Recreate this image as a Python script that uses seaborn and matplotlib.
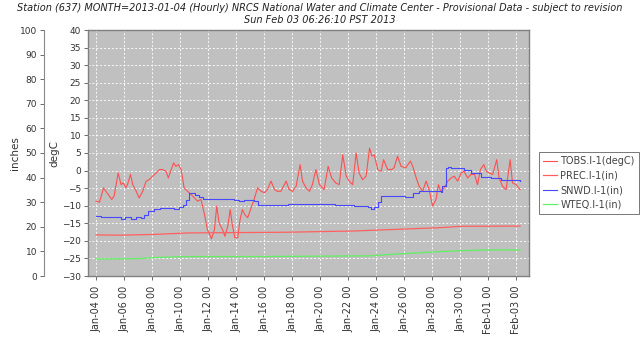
import pandas as pd
import matplotlib
matplotlib.use("Agg")
import matplotlib.pyplot as plt
import matplotlib.dates as mdates
import seaborn as sns

# Hours after 2013-01-04 00:00 and readings for each sensor
start = pd.Timestamp("2013-01-04 00:00")

tobs_hours = [0, 6, 13, 17, 23, 27, 31, 38, 43, 47, 51, 54, 59, 63, 69, 74, 80, 86, 91, 97,
              103, 109, 114, 120, 124, 129, 133, 137, 141, 146, 151, 157, 163, 169, 174, 180,
              186, 191, 198, 203, 207, 211, 217, 221, 226, 230, 234, 238, 243, 247, 251, 255,
              260, 265, 271, 277, 283, 289, 294, 300, 306, 311, 317, 326, 331, 337, 343, 350,
              354, 360, 366, 371, 377, 383, 391, 398, 404, 411, 417, 423, 429, 434, 440, 446,
              451, 457, 463, 469, 473, 477, 483, 489, 493, 500, 507, 511, 517, 523, 531, 539,
              543, 549, 554, 560, 566, 571, 577, 583, 587, 591, 597, 603, 609, 614, 620, 626,
              631, 637, 643, 649, 654, 659, 665, 669, 674, 680, 687, 691, 697, 703, 710, 714,
              720, 727]
tobs_degc = [-8.7, -9.0, -4.9, -5.9, -7.3, -8.2, -7.3, -0.7, -4.0, -3.5, -4.9, -4.0, -1.1, -4.0,
             -5.9, -7.8, -5.9, -3.0, -2.6, -1.6, -0.7, 0.3, 0.3, -0.2, -2.1, 0.3, 2.2, 1.2, 1.7,
             0.3, -4.9, -5.9, -6.8, -7.8, -8.7, -8.2, -12.5, -16.8, -19.4, -16.8, -10.1, -14.9,
             -16.8, -18.7, -15.8, -11.1, -15.8, -19.1, -19.1, -13.9, -11.1, -12.5, -13.4, -11.1,
             -8.2, -4.9, -5.9, -6.3, -5.4, -3.0, -5.4, -5.9, -5.9, -3.0, -5.4, -5.9, -4.5, 1.7,
             -3.0, -4.9, -5.9, -4.0, 0.3, -4.0, -5.4, 1.2, -2.1, -3.5, -4.0, 4.5, -1.6, -3.0,
             -4.0, 5.0, -0.7, -2.6, -1.6, 6.4, 4.1, 4.5, 0.3, -0.2, 3.1, 0.3, 0.3, 0.8, 4.1, 1.2,
             0.8, 2.7, 1.2, -2.1, -4.5, -5.9, -3.0, -5.4, -10.1, -8.2, -4.0, -5.9, -4.9, -3.0,
             -2.1, -1.6, -3.0, -0.7, -0.2, -2.1, -1.1, -1.1, -4.0, 0.3, 1.7, -0.2, -0.7, -1.1,
             3.1, -2.1, -4.5, -5.4, 3.1, -3.5, -4.0, -5.4]

prec_hours = [0, 43, 100, 157, 214, 329, 443, 529, 586, 626, 727]
prec_in = [16.7, 16.6, 16.9, 17.5, 17.6, 17.8, 18.3, 19.1, 19.6, 20.2, 20.3]

snwd_hours = [0, 9, 37, 43, 49, 60, 69, 77, 83, 89, 100, 109, 123, 134, 143, 149, 154, 160,
              169, 177, 183, 214, 237, 246, 254, 271, 277, 329, 397, 409, 443, 466, 471, 477,
              483, 489, 511, 529, 543, 554, 591, 594, 600, 603, 609, 631, 643, 660, 677, 694,
              717, 727]
snwd_in = [24.4, 23.8, 23.8, 23.0, 23.8, 23.0, 23.8, 23.5, 24.8, 26.6, 27.1, 27.5, 27.5, 27.1,
           27.9, 28.9, 30.9, 33.6, 32.9, 32.3, 31.2, 31.2, 30.9, 30.5, 30.9, 30.5, 28.9, 29.3,
           29.3, 28.7, 28.5, 28.2, 27.4, 28.2, 30.2, 32.5, 32.5, 32.3, 33.6, 34.7, 34.3, 36.6,
           43.8, 44.4, 43.8, 43.1, 41.8, 40.4, 39.7, 39.0, 39.0, 38.6]

wteq_hours = [0, 71, 100, 157, 271, 471, 500, 557, 614, 671, 727]
wteq_in = [6.9, 7.05, 7.5, 7.9, 7.9, 8.2, 8.7, 9.5, 10.2, 10.6, 10.6]

tick_dates = pd.date_range("2013-01-04", "2013-02-03", freq="2D").tolist() + [pd.Timestamp("2013-02-03")]
tick_dates = sorted(set(tick_dates))

title_lines = ["Station (637) MONTH=2013-01-04 (Hourly) NRCS National Water and Climate Center - Provisional Data - subject to revision",
               "Sun Feb 03 06:26:10 PST 2013"]


def frame(hours, values):
    return pd.DataFrame({"time": start + pd.to_timedelta(hours, unit="h"), "value": values})


W, H = 640, 341
fig = plt.figure(figsize=(W / 100, H / 100), dpi=100)
fig.patch.set_facecolor("white")
plt.rcParams["font.family"] = ["DejaVu Sans"]

ax = fig.add_axes([88 / W, (H - 276) / H, 441 / W, 246 / H])
ax.set_facecolor("#c0c0c0")
ax2 = ax.twinx()
ax2.patch.set_visible(False)

tick_col = "#555555"
lab_col = "#333333"

sns.lineplot(data=frame(tobs_hours, tobs_degc), x="time", y="value", ax=ax,
             color="#ff5050", linewidth=0.8, label="TOBS.I-1(degC)", legend=False)
sns.lineplot(data=frame(prec_hours, prec_in), x="time", y="value", ax=ax2,
             color="#ff6060", linewidth=0.9, label="PREC.I-1(in)", legend=False)
sns.lineplot(data=frame(snwd_hours, snwd_in), x="time", y="value", ax=ax2,
             color="#4848ff", linewidth=0.8, label="SNWD.I-1(in)", legend=False,
             drawstyle="steps-post")
sns.lineplot(data=frame(wteq_hours, wteq_in), x="time", y="value", ax=ax2,
             color="#60f060", linewidth=0.9, label="WTEQ.I-1(in)", legend=False)

x0 = start - pd.Timedelta(hours=13.7)
x1 = start + pd.Timedelta(hours=30.93 * 24)
ax.set_xlim(x0, x1)
ax.set_ylim(-30, 40)
ax2.set_ylim(0, 100)

ax.set_yticks(range(-30, 41, 5))
ax2.set_yticks(range(0, 101, 10))
ax.set_xticks(tick_dates)
ax.xaxis.set_major_formatter(mdates.DateFormatter("%b-%d %H"))

ax.grid(True, color="white", linestyle=(0, (2, 2)), linewidth=0.7, alpha=0.9)
ax.set_axisbelow(True)
ax.set_xlabel("")
ax.set_ylabel("")
ax2.set_xlabel("")
ax2.set_ylabel("")

# temperature axis on the plot edge, inches axis moved further left
ax2.yaxis.set_ticks_position("left")
ax2.spines["left"].set_position(("outward", 44 * 72 / 100))
ax2.spines["left"].set_visible(True)
for s in ["right", "top", "bottom"]:
    ax2.spines[s].set_visible(False)
ax2.spines["left"].set_color("#888888")
ax2.spines["left"].set_linewidth(0.8)

for s in ax.spines.values():
    s.set_color("#808080")
    s.set_linewidth(1.0)

ax.tick_params(axis="y", length=3, width=0.6, color=tick_col, labelsize=6.5,
               labelcolor=lab_col, pad=2)
ax2.tick_params(axis="y", length=3, width=0.6, color=tick_col, labelsize=6.5,
                labelcolor=lab_col, pad=2)
ax.tick_params(axis="x", length=3, width=0.6, color=tick_col, labelsize=7,
               labelcolor=lab_col, pad=4)
for lbl in ax.get_xticklabels():
    lbl.set_rotation(90)

fig.text(15 / W, 1 - 153 / H, "inches", rotation=90, ha="center", va="center",
         fontsize=7.5, color=lab_col)
fig.text(54 / W, 1 - 153 / H, "degC", rotation=90, ha="center", va="center",
         fontsize=7.5, color=lab_col)

fig.text(0.5, 1 - 8 / H, title_lines[0], ha="center", va="center", fontsize=7,
         style="italic", color="#222222")
fig.text(0.5, 1 - 20 / H, title_lines[1], ha="center", va="center", fontsize=7,
         style="italic", color="#222222")

h1, l1 = ax.get_legend_handles_labels()
h2, l2 = ax2.get_legend_handles_labels()
leg = fig.legend(h1 + h2, l1 + l2, loc="upper left",
                 bbox_to_anchor=(539 / W, 1 - 152 / H), frameon=True, fancybox=False,
                 fontsize=7, borderpad=0.45, handlelength=1.4, handletextpad=0.35,
                 labelspacing=0.45, borderaxespad=0)
leg.get_frame().set_edgecolor("#555555")
leg.get_frame().set_linewidth(0.7)
for t in leg.get_texts():
    t.set_color("#444444")

fig.savefig("out.png", dpi=100)
